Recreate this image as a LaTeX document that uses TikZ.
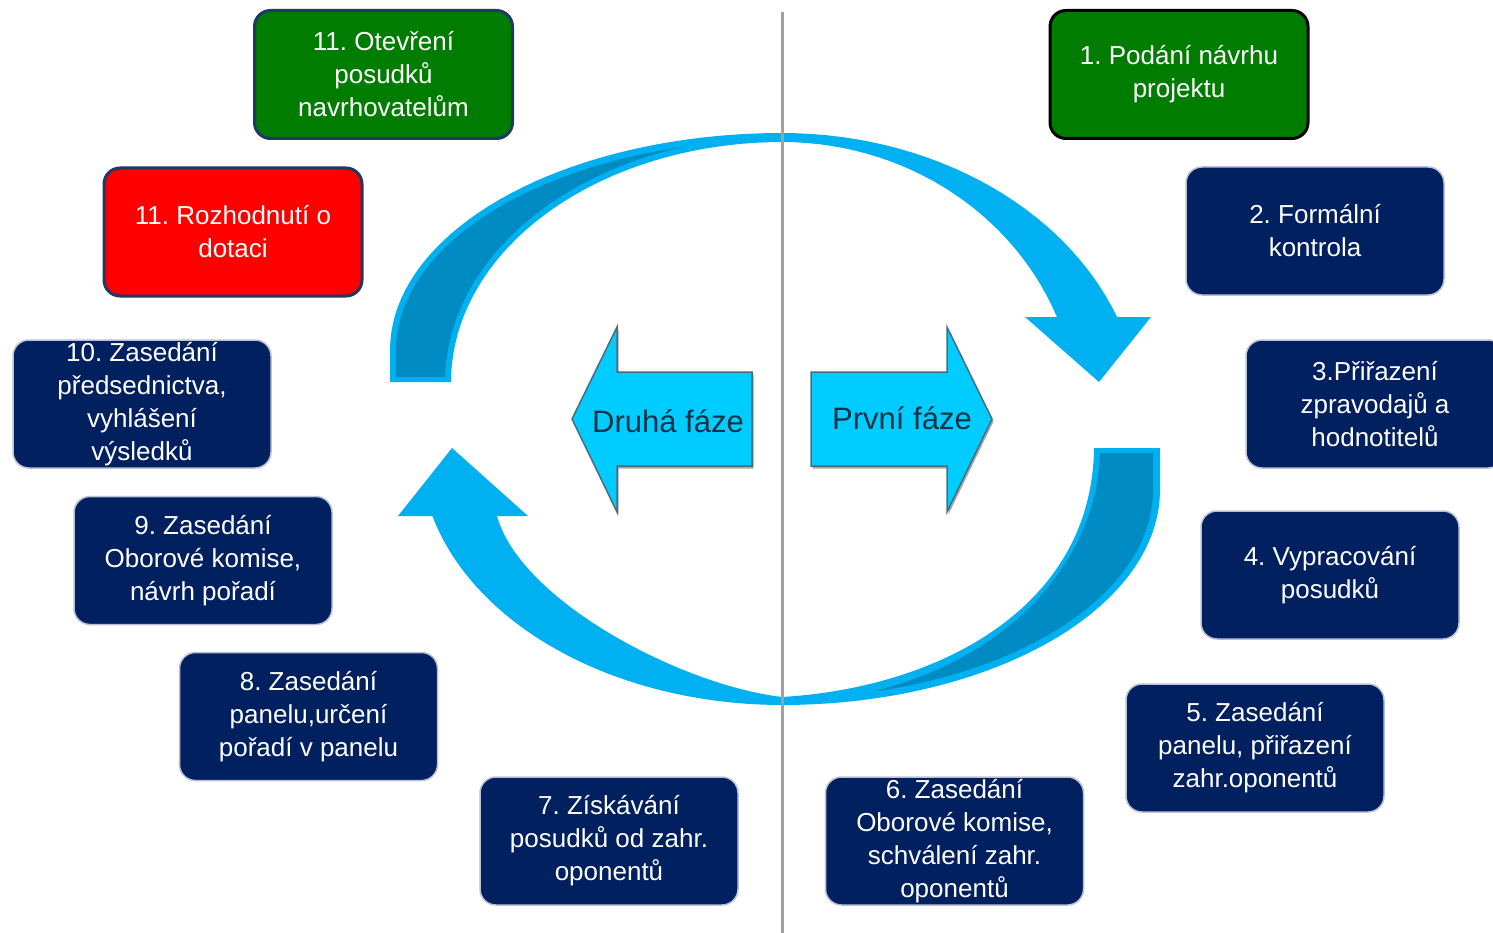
\documentclass[tikz,border=0pt]{standalone}
\usepackage{fontspec}
\setmainfont{Liberation Sans}
\frenchspacing
\definecolor{tmavomodra}{RGB}{0,32,96}
\definecolor{okrajkroku}{RGB}{186,192,214}
\definecolor{ramecek}{RGB}{31,56,100}
\definecolor{zelena}{RGB}{0,125,0}
\definecolor{cervena}{RGB}{255,0,0}
\definecolor{svetlemodra}{RGB}{0,176,240}
\definecolor{stredmodra}{RGB}{0,140,194}
\definecolor{azurova}{RGB}{0,204,255}
\definecolor{okrajfaze}{RGB}{70,110,125}
\definecolor{textfaze}{RGB}{15,50,70}
\definecolor{delicka}{RGB}{160,160,160}
\tikzset{
	krok/.style={rectangle, rounded corners=16pt, fill=tmavomodra, draw=okrajkroku, line width=1.5pt, text=white, align=center, minimum width=258pt, minimum height=128pt, inner sep=0pt, font=\fontsize{26}{33}\selectfont},
	zelenykrok/.style={krok, fill=zelena, draw=ramecek, line width=3pt},
	faze/.style={fill=azurova, draw=okrajfaze, line width=1.5pt, line join=miter},
	stinfaze/.style={fill=black!35},
	fazetext/.style={text=textfaze, font=\fontsize{31}{36}\selectfont, inner sep=0pt}
}
\begin{document}
\begin{tikzpicture}[x=1pt,y=-1pt]
	\useasboundingbox (0,0) rectangle (1493,933);
	\fill[white] (0,0) rectangle (1493,933);

	\fill[svetlemodra] (390,382) -- (390,350)
		-- plot[domain=180:270, samples=40] ({782+392*cos(\x)},{350+217*sin(\x)})
		-- plot[domain=270:339, samples=30] ({782+359*cos(\x)},{420+287*sin(\x)})
		-- (1151,317) -- (1099,382) -- (1025,317)
		-- plot[domain=338.3:270, samples=30] ({782+296*cos(\x)},{420+278*sin(\x)})
		-- plot[domain=270:180, samples=40] ({782+331*cos(\x)},{382+240*sin(\x)})
		-- cycle;
	\fill[stredmodra] (396,377) -- (396,350)
		-- plot[domain=180:255, samples=40] ({782+386*cos(\x)},{350+210*sin(\x)})
		-- plot[domain=252.7:180, samples=40] ({782+337*cos(\x)},{382+246*sin(\x)})
		-- (445,377) -- cycle;

	\fill[svetlemodra] (1094,448) -- (1160,448) -- (1160,490)
		-- plot[domain=0:90, samples=40] ({782+378*cos(\x)},{490+215*sin(\x)})
		-- plot[domain=90:165, samples=40] ({782+362*cos(\x)},{450+255*sin(\x)})
		-- (398,516) -- (452,448) -- (528,516) -- (497,516)
		.. controls (520,600) and (680,685) .. (782,697)
		.. controls (935,688) and (1092,610) .. (1094,448)
		-- cycle;
	\fill[stredmodra] (1100,453) -- (1153,453) -- (1153,490)
		-- plot[domain=0:76.3, samples=40] ({782+371*cos(\x)},{490+208*sin(\x)})
		-- plot[domain=74:0, samples=40] ({782+318*cos(\x)},{448+254*sin(\x)})
		-- cycle;

	\coordinate (horni) at (782,12);
	\coordinate (dolni) at (782,933);
	\draw[delicka, line width=3pt] (horni) -- (dolni);

	\fill[stinfaze, shift={(1.5,2.5)}] (752,372) -- (617,372) -- (617,327) -- (572,419) -- (617,512) -- (617,466) -- (752,466) -- cycle;
	\filldraw[faze] (752,372) -- (617,372) -- (617,327) -- (572,419) -- (617,512) -- (617,466) -- (752,466) -- cycle;
	\fill[stinfaze, shift={(1.5,2.5)}] (811,372) -- (947,372) -- (947,327) -- (992,419) -- (947,512) -- (947,466) -- (811,466) -- cycle;
	\filldraw[faze] (811,372) -- (947,372) -- (947,327) -- (992,419) -- (947,512) -- (947,466) -- (811,466) -- cycle;
	\node[fazetext] (druha) at (668,421) {Druhá fáze};
	\node[fazetext] (prvni) at (902,418) {První fáze};

	\node[zelenykrok, draw=black] (podani) at (1179,74.5) {1. Podání návrhu\\projektu};
	\node[krok] (kontrola) at (1315,231) {2. Formální\\kontrola};
	\node[krok] (prirazeni) at (1375,404) {3.Přiřazení\\zpravodajů a\\hodnotitelů};
	\node[krok] (posudky) at (1330,575) {4. Vypracování\\posudků};
	\node[krok] (panel) at (1255,748) {5. Zasedání\\panelu, přiřazení\\zahr.oponentů};
	\node[krok] (schvaleni) at (954.5,841) {6. Zasedání\\Oborové komise,\\schválení zahr.\\oponentů};
	\node[krok] (ziskavani) at (609,841) {7. Získávání\\posudků od zahr.\\oponentů};
	\node[krok] (urceni) at (308.5,716.5) {8. Zasedání\\panelu,určení\\pořadí v panelu};
	\node[krok] (navrh) at (203,560.5) {9. Zasedání\\Oborové komise,\\návrh pořadí};
	\node[krok] (vyhlaseni) at (142,404) {10. Zasedání\\předsednictva,\\vyhlášení\\výsledků};
	\node[zelenykrok, fill=cervena] (rozhodnuti) at (233,232) {11. Rozhodnutí o\\dotaci};
	\node[zelenykrok] (otevreni) at (383.5,74.5) {11. Otevření\\posudků\\navrhovatelům};
\end{tikzpicture}
\end{document}
